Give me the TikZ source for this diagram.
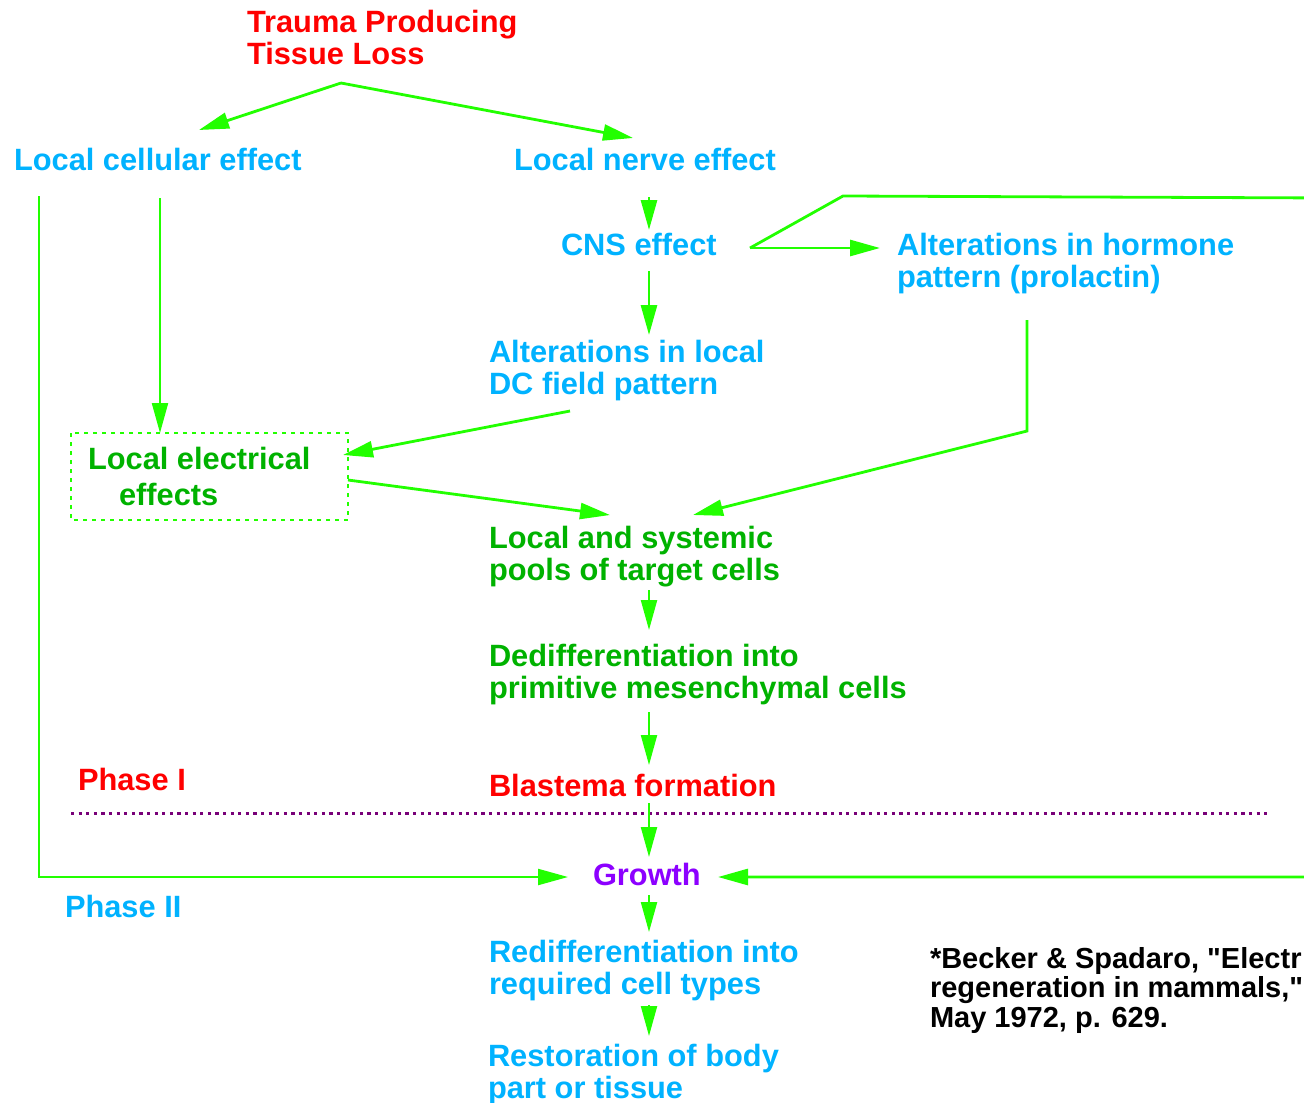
\documentclass[tikz,border=0pt]{standalone}
\usepackage{fontspec}
\setmainfont{Liberation Sans}[Ligatures=TeXOff]
\usetikzlibrary{arrows.meta}
\definecolor{tred}{RGB}{255,0,0}
\definecolor{tblue}{RGB}{0,178,255}
\definecolor{tgreen}{RGB}{0,178,0}
\definecolor{agreen}{RGB}{34,255,0}
\definecolor{tpurple}{RGB}{140,0,255}
\definecolor{dpurple}{RGB}{120,0,120}
\begin{document}
\begin{tikzpicture}[x=0.5pt,y=-0.5pt,
  lbl/.style={anchor=north west,inner sep=0pt,outer sep=0pt,align=left,font=\fontsize{15.4pt}{16pt}\selectfont\bfseries},
  citetext/.style={anchor=north west,inner sep=0pt,outer sep=0pt,align=left,font=\fontsize{14.5pt}{14.8pt}\selectfont\bfseries},
  conn/.style={draw=agreen,line width=1.4pt,-{Triangle[length=15pt,width=8pt]}},
  dashbox/.style={draw=agreen,line width=1.25pt,dash pattern=on 2pt off 2.5pt},
  phaseline/.style={draw=dpurple,line width=1.5pt,dash pattern=on 1.6pt off 2.2pt}]
\useasboundingbox (0,0) rectangle (1304,1102);
\clip (0,0) rectangle (1304,1102);

% nodes
\node[lbl,text=tred] (trauma) at (247,10) {Trauma Producing\\Tissue Loss};
\node[lbl,text=tblue] (cellular) at (14,148) {Local cellular effect};
\node[lbl,text=tblue] (nerve) at (514,148) {Local nerve effect};
\node[lbl,text=tblue] (cns) at (561,233) {CNS effect};
\node[lbl,text=tblue] (hormone) at (897,233) {Alterations in hormone\\pattern (prolactin)};
\node[lbl,text=tblue] (localdc) at (489,340) {Alterations in local\\DC field pattern};
\node[lbl,text=tgreen] (electrical) at (88,447) {Local electrical\\[2pt]\hspace*{15.5pt}effects};
\node[lbl,text=tgreen] (pools) at (489,526) {Local and systemic\\pools of target cells};
\node[lbl,text=tgreen] (dediff) at (489,644) {Dedifferentiation into\\primitive mesenchymal cells};
\node[lbl,text=tred] (phaseI) at (78,768) {Phase I};
\node[lbl,text=tred] (blastema) at (489,774) {Blastema formation};
\node[lbl,text=tpurple] (growth) at (593,863) {Growth};
\node[lbl,text=tblue] (phaseII) at (65,895) {Phase II};
\node[lbl,text=tblue] (rediff) at (489,940) {Redifferentiation into\\required cell types};
\node[lbl,text=tblue] (restore) at (488,1044) {Restoration of body\\part or tissue};
\node[citetext,text=black] (cite) at (930,947) {*Becker \& Spadaro, "Electr\\regeneration in mammals,"\\May 1972, p. 629.};

% dotted box and phase separator
\draw[dashbox] ([shift={(-17,-14)}]electrical.north west) rectangle ([shift={(260,73)}]electrical.north west);
\draw[phaseline] (71,813) -- (1270,813);

% connectors
\coordinate (apex) at (341,83);
\draw[conn] (apex) -- ([shift={(185,-18)}]cellular.north west);
\draw[conn] (apex) -- ([shift={(119,-10)}]nerve.north west);
\draw[conn] ([shift={(135,49)}]nerve.north west) -- ([shift={(88,-3)}]cns.north west);
\draw[conn] ([shift={(88,38)}]cns.north west) -- ([shift={(160,-5)}]localdc.north west);
\coordinate (cnsout) at ([shift={(189,15)}]cns.north west);
\draw[conn] (cnsout) -- ([shift={(-17,15)}]hormone.north west);
\draw[conn] (cnsout) -- (843,196) -- (1330,198) -- (1330,877) -- ([shift={(125,14)}]growth.north west);
\draw[conn] ([shift={(130,87)}]hormone.north west) -- (1027,431) -- ([shift={(204,-11)}]pools.north west);
\draw[conn] ([shift={(81,71)}]localdc.north west) -- ([shift={(255,8)}]electrical.north west);
\draw[conn,line width=1.1pt] ([shift={(146,50)}]cellular.north west) -- ([shift={(72,-14)}]electrical.north west);
\draw[conn] ([shift={(260,33)}]electrical.north west) -- ([shift={(121,-11)}]pools.north west);
\draw[conn,line width=1.1pt] ([shift={(160,64)}]pools.north west) -- ([shift={(160,-14)}]dediff.north west);
\draw[conn,line width=1.1pt] ([shift={(160,68)}]dediff.north west) -- ([shift={(160,-9)}]blastema.north west);
\draw[conn,line width=1.1pt] ([shift={(160,29)}]blastema.north west) -- ([shift={(56,-6)}]growth.north west);
\draw[conn,line width=1.1pt] ([shift={(25,48)}]cellular.north west) -- (39,877) -- ([shift={(-25,14)}]growth.north west);
\draw[conn,line width=1.1pt] ([shift={(56,32)}]growth.north west) -- ([shift={(160,-8)}]rediff.north west);
\draw[conn,line width=1.1pt] ([shift={(160,65)}]rediff.north west) -- ([shift={(161,-8)}]restore.north west);
\end{tikzpicture}
\end{document}
